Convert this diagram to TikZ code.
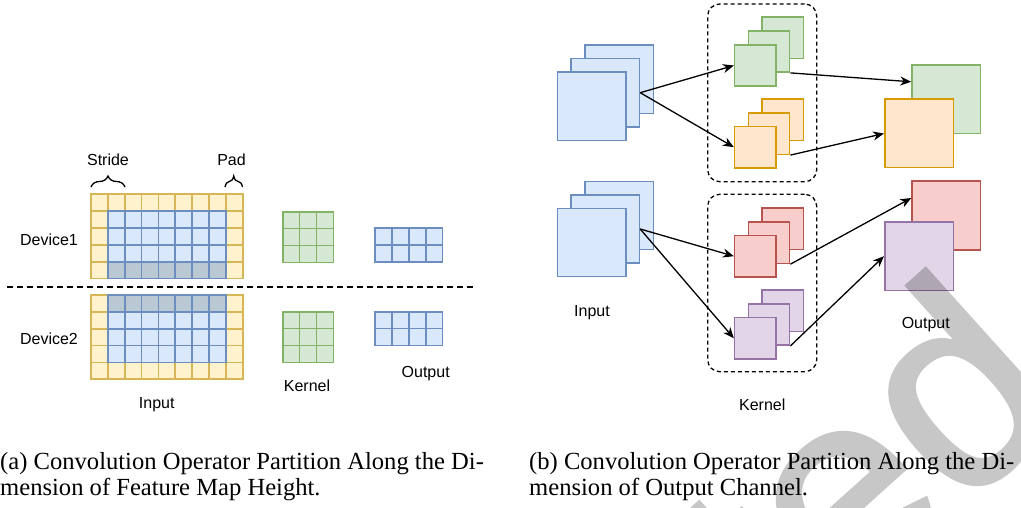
\documentclass[tikz,border=0pt]{standalone}
\usepackage{fontspec}
\setmainfont{Liberation Serif}
\newfontfamily\labfont{Liberation Sans}
\newfontfamily\wmfamily[FakeBold=1.5]{Liberation Sans}
\usetikzlibrary{arrows.meta,decorations.pathreplacing,calc}
\definecolor{yellowF}{HTML}{FFF2CC}\definecolor{yellowS}{HTML}{D6B656}
\definecolor{blueF}{HTML}{DAE8FC}\definecolor{blueS}{HTML}{6C8EBF}
\definecolor{grayF}{HTML}{BAC8D3}
\definecolor{greenF}{HTML}{D5E8D4}\definecolor{greenS}{HTML}{82B366}
\definecolor{orangeF}{HTML}{FFE6CC}\definecolor{orangeS}{HTML}{D79B00}
\definecolor{redF}{HTML}{F8CECC}\definecolor{redS}{HTML}{B85450}
\definecolor{purpleF}{HTML}{E1D5E7}\definecolor{purpleS}{HTML}{9673A6}
\begin{document}
\begin{tikzpicture}[x=1pt,y=-1pt,
  ycell/.style={fill=yellowF,draw=yellowS,line width=1.7pt},
  bcell/.style={fill=blueF,draw=blueS,line width=1.7pt},
  gcell/.style={fill=grayF,draw=blueS,line width=1.7pt},
  kcell/.style={fill=greenF,draw=greenS,line width=1.7pt},
  labtxt/.style={font=\labfont\fontsize{16}{19}\selectfont,inner sep=0pt,anchor=base},
  captxt/.style={font=\fontsize{24.6}{26}\selectfont,inner sep=0pt,anchor=base west},
  sqbox/.style={rectangle,inner sep=0pt,line width=1.5pt,minimum width=#1,minimum height=#1},
  inbox/.style={sqbox=68.3pt,fill=blueF,draw=blueS},
  kgbox/.style={sqbox=41.3pt,fill=greenF,draw=greenS},
  kobox/.style={sqbox=41.3pt,fill=orangeF,draw=orangeS},
  krbox/.style={sqbox=41.3pt,fill=redF,draw=redS},
  kpbox/.style={sqbox=41.3pt,fill=purpleF,draw=purpleS},
  ogbox/.style={sqbox=68.5pt,fill=greenF,draw=greenS},
  oobox/.style={sqbox=68.5pt,fill=orangeF,draw=orangeS},
  orbox/.style={sqbox=68.5pt,fill=redF,draw=redS},
  opbox/.style={sqbox=68.5pt,fill=purpleF,draw=purpleS},
  grpbox/.style={rectangle,draw=black,line width=1.3pt,dash pattern=on 4pt off 3pt,rounded corners=12pt,minimum width=109pt},
  arrline/.style={line width=1.3pt,-{Stealth[length=11pt,width=9pt,inset=3.5pt]}},
  brcline/.style={line width=1.3pt,decorate,decoration={brace,amplitude=11pt}}
]
\useasboundingbox (0,0) rectangle (1021,508);
\clip (0,0) rectangle (1021,508);
% ---------------- (a) ----------------
\def\cw{16.85}
% Device1 input
\foreach \i in {0,...,8}{\foreach \j in {0,...,4}{\draw[ycell] (91+\i*\cw,194.3+\j*\cw) rectangle ++(\cw,\cw);}}
\foreach \i in {1,...,7}{\foreach \j in {1,2,3}{\draw[bcell] (91+\i*\cw,194.3+\j*\cw) rectangle ++(\cw,\cw);}
  \draw[gcell] (91+\i*\cw,194.3+4*\cw) rectangle ++(\cw,\cw);}
% Device2 input
\foreach \i in {0,...,8}{\foreach \j in {0,...,4}{\draw[ycell] (91+\i*\cw,295+\j*\cw) rectangle ++(\cw,\cw);}}
\foreach \i in {1,...,7}{\foreach \j in {1,2,3}{\draw[bcell] (91+\i*\cw,295+\j*\cw) rectangle ++(\cw,\cw);}
  \draw[gcell] (91+\i*\cw,295) rectangle ++(\cw,\cw);}
% kernels
\def\kw{16.9}
\foreach \i in {0,1,2}{\foreach \j in {0,1,2}{
  \draw[kcell] (282.7+\i*\kw,211.7+\j*\kw) rectangle ++(\kw,\kw);
  \draw[kcell] (282.7+\i*\kw,311.7+\j*\kw) rectangle ++(\kw,\kw);}}
% outputs
\foreach \i in {0,...,3}{\foreach \j in {0,1}{
  \draw[bcell] (375+\i*\kw,228.3+\j*\kw) rectangle ++(\kw,\kw);
  \draw[bcell] (375+\i*\kw,311.7+\j*\kw) rectangle ++(\kw,\kw);}}
% separator
\draw[line width=1.3pt,dash pattern=on 6pt off 4pt] (7,287) -- (475,287);
% braces
\draw[brcline] (91,187) -- (125,187);
\draw[brcline] (225,187) -- (242.5,187);
% labels
\node[labtxt] (stride) at (108,166) {Stride};
\node[labtxt] (pad) at (231.5,166) {Pad};
\node[labtxt] (dev1) at (49,245.7) {Device1};
\node[labtxt] (dev2) at (49,344.3) {Device2};
\node[labtxt] (inA) at (156.7,408.2) {Input};
\node[labtxt] (kerA) at (307,391.5) {Kernel};
\node[labtxt] (outA) at (425.7,377.2) {Output};
% ---------------- (b) ----------------
\node[grpbox,minimum height=177.7pt] (grp1) at (762.2,92.85) {};
\node[grpbox,minimum height=177.4pt] (grp2) at (762.2,283) {};
% input stacks
\node[inbox] (in1b) at (619.2,79.2) {};
\node[inbox] (in1m) at (605.3,92.7) {};
\node[inbox] (in1f) at (591.8,106.2) {};
\node[inbox] (in2b) at (619.2,215.5) {};
\node[inbox] (in2m) at (605.3,229) {};
\node[inbox] (in2f) at (591.8,242.5) {};
% kernel stacks
\node[kgbox] (gb) at (782.7,37.8) {};
\node[kgbox] (gm) at (769,51.5) {};
\node[kgbox] (gf) at (755.3,65.5) {};
\node[kobox] (ob) at (782.7,119.8) {};
\node[kobox] (om) at (769,133.7) {};
\node[kobox] (of) at (755.3,147.2) {};
\node[krbox] (rb) at (782.7,228.8) {};
\node[krbox] (rm) at (769,242.8) {};
\node[krbox] (rf) at (755.3,256.2) {};
\node[kpbox] (pb) at (782.7,310.8) {};
\node[kpbox] (pm) at (769,324.5) {};
\node[kpbox] (pf) at (755.3,338.3) {};
% outputs
\node[ogbox] (go) at (946.3,99.3) {};
\node[oobox] (oo) at (919,133.5) {};
\node[orbox] (ro) at (946.3,215.5) {};
\node[opbox] (po) at (919,256.2) {};
% arrows
\draw[arrline] (in1m.east) -- (gf.west);
\draw[arrline] (in1m.east) -- (of.west);
\draw[arrline] (in2m.east) -- (rf.west);
\draw[arrline] (in2m.east) -- (pf.west);
\draw[arrline] (gm.south east) -- ($(go.north west)!0.25!(go.south west)$);
\draw[arrline] (om.south east) -- (oo.west);
\draw[arrline] (rm.south east) -- ($(ro.north west)!0.25!(ro.south west)$);
\draw[arrline] (pm.south east) -- (po.west);
% labels
\node[labtxt] (inB) at (592,316) {Input};
\node[labtxt] (kerB) at (762.3,410.8) {Kernel};
\node[labtxt] (outB) at (925.8,328.8) {Output};
% captions
\node[captxt] (capA1) at (0,469.3) {(a) Convolution Operator Partition Along the Di-};
\node[captxt] (capA2) at (0,495) {mension of Feature Map Height.};
\node[captxt] (capB1) at (529,469.3) {(b) Convolution Operator Partition Along the Di-};
\node[captxt] (capB2) at (529,495) {mension of Output Channel.};
% watermark
\begin{scope}[transparency group,opacity=0.22]
\node[rotate=42,anchor=base west,inner sep=0pt,text=black,
  font=\wmfamily\fontsize{280}{280}\selectfont] (wm) at (786,668) {ted};
\end{scope}
\end{tikzpicture}
\end{document}
